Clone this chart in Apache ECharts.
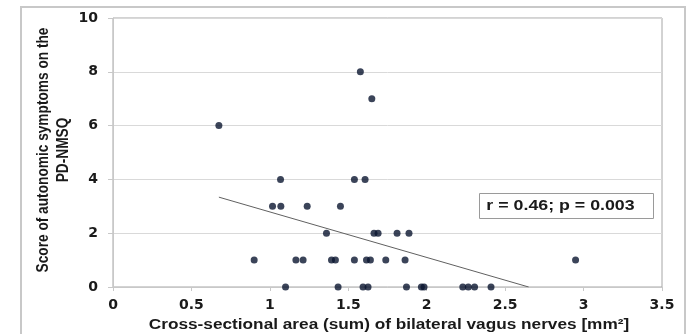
<!DOCTYPE html>
<html>
<head>
<meta charset="utf-8">
<script src="https://cdn.jsdelivr.net/npm/echarts@6/dist/echarts.min.js"></script>
<style>
  html, body { margin: 0; padding: 0; background: #ffffff; }
  #chart { width: 687px; height: 334px; }
</style>
</head>
<body>
<div id="chart"></div>
<script>
// Cross-sectional area (sum of both vagus nerves, mm²) for each patient
const areaValues = [
  1.577, 1.650, 0.675,
  1.068, 1.539, 1.607,
  1.017, 1.070, 1.238, 1.450,
  1.361, 1.664, 1.690, 1.811, 1.887,
  0.900, 1.166, 1.212, 1.393, 1.418, 1.539, 1.616, 1.641, 1.739, 1.862, 2.949,
  1.100, 1.435, 1.594, 1.626, 1.871, 1.966, 1.983, 2.230, 2.265, 2.305, 2.410
];
// Autonomic symptom score (PD-NMSQ) for the same patients
const scoreValues = [
  8, 7, 6,
  4, 4, 4,
  3, 3, 3, 3,
  2, 2, 2, 2, 2,
  1, 1, 1, 1, 1, 1, 1, 1, 1, 1, 1,
  0, 0, 0, 0, 0, 0, 0, 0, 0, 0, 0
];
// Linear trend line end points (clipped at a score of 0)
const trendX = [0.675, 2.65];
const trendY = [3.34, 0];

const statsText = 'r = 0.46; p = 0.003';
const xTitle = 'Cross-sectional area (sum) of bilateral vagus nerves [mm²]';
const yTitle = 'Score of autonomic symptoms on the\nPD-NMSQ';

const chart = echarts.init(document.getElementById('chart'), null, { renderer: 'canvas' });

const FONT = '"Liberation Sans", Arial, sans-serif';
const TICK_FONT = '"DejaVu Sans", "Liberation Sans", sans-serif';

chart.setOption({
  animation: false,
  backgroundColor: '#ffffff',
  grid: {
    left: 113, right: 25, top: 18, bottom: 47,
    show: true, borderColor: '#a6a6a6', borderWidth: 1, backgroundColor: 'transparent'
  },
  xAxis: {
    type: 'value', min: 0, max: 3.5, interval: 0.5,
    axisLine: { show: true, lineStyle: { color: '#c8c8c8', width: 1 } },
    axisTick: { show: true, length: 4, lineStyle: { color: '#c8c8c8' } },
    axisLabel: { margin: 11, fontFamily: TICK_FONT, fontWeight: 'bold', fontSize: 14, color: '#1a1a1a' },
    splitLine: { show: false }
  },
  yAxis: {
    type: 'value', min: 0, max: 10, interval: 2,
    axisLine: { show: true, lineStyle: { color: '#c8c8c8', width: 1 } },
    axisTick: { show: true, length: 5, lineStyle: { color: '#c8c8c8' } },
    axisLabel: { margin: 15, fontFamily: TICK_FONT, fontWeight: 'bold', fontSize: 14, color: '#1a1a1a' },
    splitLine: { show: true, lineStyle: { color: '#d9d9d9', width: 1 } }
  },
  series: [
    {
      type: 'line',
      data: trendX.map((x, i) => [x, trendY[i]]),
      showSymbol: false,
      symbol: 'none',
      lineStyle: { color: '#606060', width: 1 },
      z: 2,
      silent: true
    },
    {
      type: 'scatter',
      data: areaValues.map((x, i) => [x, scoreValues[i]]),
      symbol: 'circle',
      symbolSize: 7,
      itemStyle: { color: '#0a1530' },
      z: 3
    }
  ],
  graphic: [
    // outer frame
    {
      type: 'rect',
      shape: { x: 21, y: 7, width: 664, height: 340 },
      style: { fill: 'none', stroke: '#c8c8c8', lineWidth: 2 },
      silent: true, z: 0
    },
    // x-axis title (wide bold lettering)
    {
      type: 'text',
      x: 389, y: 325,
      scaleX: 1.23,
      style: {
        text: xTitle,
        font: 'bold 14px ' + FONT,
        fill: '#1a1a1a',
        textAlign: 'center',
        textVerticalAlign: 'middle'
      },
      silent: true
    },
    // y-axis title, two lines reading upwards
    {
      type: 'text',
      x: 53.5, y: 150,
      rotation: Math.PI / 2,
      scaleY: 1.2,
      style: {
        text: yTitle,
        font: 'bold 13.7px ' + FONT,
        lineHeight: 17,
        fill: '#1a1a1a',
        textAlign: 'center',
        textVerticalAlign: 'middle'
      },
      silent: true
    },
    // statistics box
    {
      type: 'rect',
      shape: { x: 479.5, y: 193.5, width: 174, height: 25 },
      style: { fill: '#ffffff', stroke: '#9a9a9a', lineWidth: 1 },
      z: 10
    },
    {
      type: 'text',
      x: 560.5, y: 206,
      scaleX: 1.27,
      style: {
        text: statsText,
        font: 'bold 14px ' + FONT,
        fill: '#1a1a1a',
        textAlign: 'center',
        textVerticalAlign: 'middle'
      },
      z: 11
    }
  ]
});
</script>
</body>
</html>
